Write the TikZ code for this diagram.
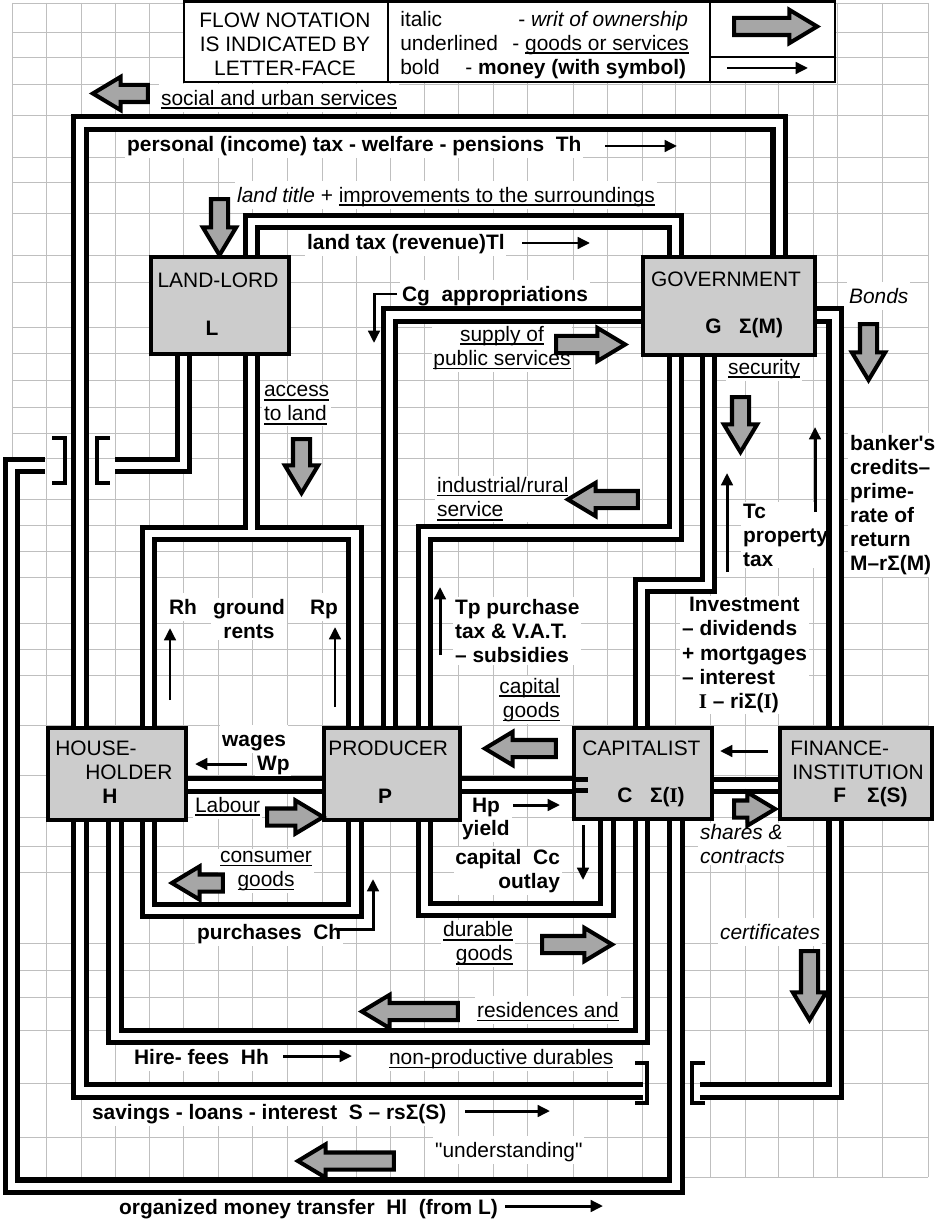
\documentclass[tikz,border=0pt]{standalone}
\usepackage{fontspec}
\setmainfont{Liberation Sans}[Ligatures=TeXOff]
\newfontfamily\serifI{Liberation Serif}
\usetikzlibrary{shapes.arrows,arrows.meta}
\newcommand\uln[1]{\setbox0=\hbox{#1}\leavevmode\rlap{\rule[-2.2pt]{\wd0}{1pt}}\box0}
\def\pxu{0.02cm}
\pgfdeclarelayer{grid}
\pgfdeclarelayer{pipes}
\pgfsetlayers{grid,pipes,main}

\tikzset{
  gridline/.style={draw=black!25, line width=0.55pt},
  pipe/.style={draw=white, line width=4pt, preaction={draw=black, line width=9.7pt}},
  agent/.style={draw, line width=2pt, fill=black!20, inner sep=0pt, anchor=north west},
  boxtxt/.style={inner sep=0pt},
  lbl/.style={fill=white, inner sep=1pt, anchor=west},
  oneline/.style={text height=11.4pt, text depth=3pt},
  bftext/.style={font=\fontsize{11.9}{13.7}\selectfont\bfseries},
  money/.style={line width=1.7pt, -{Triangle[length=7pt,width=6.5pt]}},
  fatarrow/.style={single arrow, draw=black, line width=2.3pt, fill=black!35,
    inner xsep=0pt, inner ysep=3.7pt, single arrow head extend=4.6pt,
    single arrow tip angle=62, minimum height=#1},
  bridge/.style={line width=2.5pt},
}

\begin{document}
\begin{tikzpicture}[x=0.02cm, y=-0.02cm, every node/.style={font=\fontsize{11.9}{13.7}\selectfont}]
  \useasboundingbox (0,0) rectangle (941,1219);

  \begin{pgfonlayer}{grid}
  \fill[white] (0,0) rectangle (941,1219);
  %%%%% grid %%%%%
  \foreach \gx in {12,46,81,115,149,183,218,252,287,322,356,390,424,458,493,527,573,607,642,675,710,745,778,813,837,882,928}
    \draw[gridline] (\gx,3) -- (\gx,1177);
  \foreach \gy in {3,32,57,84,115,157,182,213,255,282,327,353,380,407,433,458,499,525,551,577,623,649,675,725,775,817,846,872,943,970,997,1030,1083,1137,1177}
    \draw[gridline] (12,\gy) -- (928,\gy);

  %%%%% legend %%%%%
  \draw[line width=1.5pt, fill=white] (184,1.5) rectangle (835,82);
  \draw[line width=1.5pt] (388,1.5) -- (388,82) (710,1.5) -- (710,82) (710,57) -- (835,57);
  \node[align=center] (flow) at (285,44) {FLOW NOTATION\\IS INDICATED BY\\LETTER-FACE};
  \node[boxtxt, oneline, anchor=west] (keyI) at (400,19) {italic};
  \node[boxtxt, oneline, anchor=west] (keyIdesc) at (518,19) {- \textit{writ of ownership}};
  \node[boxtxt, oneline, anchor=west] (keyU) at (400,43) {underlined};
  \node[boxtxt, oneline, anchor=west] (keyUdesc) at (512,43) {- \uln{goods or services}};
  \node[boxtxt, oneline, anchor=west] (keyB) at (400,67) {bold};
  \node[boxtxt, oneline, anchor=west] (keyBdesc) at (465,67) {- \textbf{money (with symbol)}};

  %%%%% labels %%%%%
  \node[lbl, oneline] (social) at (159,98) {\uln{social and urban services}};
  \node[lbl, oneline, bftext] (thlbl) at (125,144) {personal (income) tax - welfare - pensions\ \ Th};
  \node[lbl, oneline] (title) at (235,195) {\textit{land title} + \uln{improvements to the surroundings}};
  \node[lbl, oneline, bftext] (tllbl) at (305,242) {land tax (revenue)Tl};
  \node[lbl, oneline, bftext] (cglbl) at (400,294) {Cg\ \ appropriations};
  \node[lbl, oneline] (bonds) at (847,296) {\textit{Bonds}};
  \node[lbl, anchor=center, align=center] (supply) at (502,348) {\uln{supply of}\\\uln{public services}};
  \node[lbl, align=left] (access) at (262,405) {\uln{access}\\\uln{to land}};
  \node[lbl, oneline] (security) at (726,367) {\uln{security}};
  \node[lbl, align=left] (indus) at (435,499) {\uln{industrial/rural}\\\uln{service}};
  \node[lbl, bftext, align=left] (tclbl) at (741,535) {Tc\\property\\tax};
  \node[lbl, bftext, align=left] (banker) at (848,505) {banker's\\credits–\\prime-\\rate of\\return\\M–rΣ(M)};
  \node[lbl, oneline, bftext] (rh) at (167,607) {Rh};
  \node[lbl, bftext, anchor=center, align=center] (rents) at (249,619) {ground\\rents};
  \node[lbl, oneline, bftext] (rp) at (308,607) {Rp};
  \node[lbl, bftext, align=left] (tplbl) at (453,631) {Tp purchase\\tax \& V.A.T.\\– subsidies};
  \node[lbl, bftext, align=left] (invest) at (680,655) {\hspace*{4pt}Investment\\– dividends\\+ mortgages\\– interest\\\hspace*{9.5pt}{\serifI I} – riΣ({\serifI I})};
  \node[lbl, anchor=east, align=right] (capgoods) at (562,700) {\uln{capital}\\\uln{goods}};
  \node[lbl, oneline, bftext] (wp) at (255,763) {Wp};
  \node[lbl, oneline, bftext] (wages) at (220,739) {wages};
  \node[lbl, oneline] (labour) at (193,805) {\uln{Labour}};
  \node[lbl, anchor=center, align=center] (consumer) at (266,871) {\uln{consumer}\\\uln{goods}};
  \node[lbl, oneline, bftext] (yield) at (460,828) {yield};
  \node[lbl, oneline, bftext] (hp) at (470,805) {Hp};
  \node[lbl, bftext, anchor=east, align=right] (cclbl) at (562,871) {capital\ \ Cc\\outlay};
  \node[lbl, align=left] (shares) at (698,844) {\textit{shares \&}\\\textit{contracts}};
  \node[lbl, oneline, bftext] (chlbl) at (195,932) {purchases\ \ Ch};
  \node[lbl, anchor=east, align=right] (durable) at (515,943.5) {\uln{durable}\\\uln{goods}};
  \node[lbl, oneline] (resid) at (475,1010) {\uln{residences and}};
  \node[lbl, oneline, bftext] (hhlbl) at (132,1057) {Hire- fees\ \ Hh};
  \node[lbl, oneline] (nonprod) at (387,1057) {\uln{non-productive durables}};
  \node[lbl, oneline, bftext] (slbl) at (90,1112) {savings - loans - interest\ \ S – rsΣ(S)};
  \node[lbl, oneline] (underst) at (433,1150) {"understanding"};
  \node[lbl, oneline, bftext] (hllbl) at (117,1207) {organized money transfer\ \ Hl\ \ (from L)};
  \node[lbl, oneline] (certif) at (718,932) {\textit{certificates}};
  \end{pgfonlayer}

  %%%%% agents %%%%%
  \node[agent, minimum width=138*\pxu, minimum height=97*\pxu] (L) at (149,255) {};
  \node[agent, minimum width=172*\pxu, minimum height=98*\pxu] (G) at (641,255) {};
  \node[agent, minimum width=138*\pxu, minimum height=92*\pxu] (H) at (46,726) {};
  \node[agent, minimum width=136*\pxu, minimum height=92*\pxu] (P) at (322,726) {};
  \node[agent, minimum width=138*\pxu, minimum height=91*\pxu] (C) at (572,726) {};
  \node[agent, minimum width=152*\pxu, minimum height=91*\pxu] (F) at (778,726) {};
  \fill (574,777) rectangle (588,782);
  \fill (574,788) rectangle (588,793);

  %%%%% pipes %%%%%
  \begin{pgfonlayer}{pipes}
  \draw[pipe] (H.north -| 80,0) -- (80,123) -- (779,123) -- (G.north -| 779,0);
  \draw[pipe] (H.south -| 80,0) -- (80,1091) -- (643,1091);
  \draw[pipe] (700,1091) -- (835,1091) -- (F.south -| 835,0);
  \draw[pipe] (L.south -| 183.5,0) -- (183.5,465.5) -- (115,465.5);
  \draw[pipe] (45,465.5) -- (11.5,465.5) -- (11.5,1186) -- (676,1186) -- (C.south -| 676,0);
  \draw[pipe] (L.north -| 251.5,0) -- (251.5,221.5) -- (675.5,221.5) -- (G.north -| 675.5,0);
  \draw[pipe] (L.south -| 251.5,0) -- (251.5,533.5)
              (H.north -| 148.5,0) -- (148.5,533.5) -- (355,533.5) -- (P.north -| 355,0);
  \draw[pipe] (G.west |- 0,315) -- (389.5,315) -- (P.north -| 389.5,0);
  \draw[pipe] (G.south -| 675.5,0) -- (675.5,533) -- (424.5,533) -- (P.north -| 424.5,0);
  \draw[pipe] (G.south -| 708.5,0) -- (708.5,585.5) -- (641.5,585.5) -- (C.north -| 641.5,0);
  \draw[pipe] (G.east |- 0,315) -- (835,315) -- (F.north -| 835,0);
  \draw[pipe] (H.east |- 0,785) -- (P.west |- 0,785);
  \draw[pipe] (P.east |- 0,785) -- (C.west |- 0,785);
  \draw[pipe] (C.east |- 0,785.5) -- (F.west |- 0,785.5);
  \draw[pipe] (H.south -| 148.5,0) -- (148.5,910.5) -- (355,910.5) -- (P.south -| 355,0);
  \draw[pipe] (P.south -| 424.5,0) -- (424.5,909.5) -- (607,909.5) -- (C.south -| 607,0);
  \draw[pipe] (H.south -| 115,0) -- (115,1036.5) -- (641.5,1036.5) -- (C.south -| 641.5,0);

  % bridges
  \draw[bridge] (52,438) -- (65,438) -- (65,483) -- (52,483);
  \draw[bridge] (110,438) -- (97,438) -- (97,483) -- (110,483);
  \draw[bridge] (635,1063) -- (647,1063) -- (647,1103) -- (635,1103);
  \draw[bridge] (705,1063) -- (692,1063) -- (692,1103) -- (705,1103);
  \end{pgfonlayer}

  \node[boxtxt] (Ltitle) at (218,280) {LAND-LORD};
  \node[boxtxt, bftext] (Lsym) at (212,328) {L};
  \node[boxtxt] (Gtitle) at (726,279) {GOVERNMENT};
  \node[boxtxt, bftext, anchor=west] (Gsym) at (705,328) {G\hspace{10pt}Σ(M)};
  \node[boxtxt, anchor=west] (Htitle1) at (55,748) {HOUSE-};
  \node[boxtxt, anchor=west] (Htitle2) at (85,772) {HOLDER};
  \node[boxtxt, bftext] (Hsym) at (110,796) {H};
  \node[boxtxt, anchor=west] (Ptitle) at (328,748) {PRODUCER};
  \node[boxtxt, bftext] (Psym) at (385,796) {P};
  \node[boxtxt, anchor=west] (Ctitle) at (582,748) {CAPITALIST};
  \node[boxtxt, bftext, anchor=west] (Csym) at (617,797) {C\hspace{10pt}Σ({\serifI I})};
  \node[boxtxt, anchor=west] (Ftitle1) at (790,748) {FINANCE-};
  \node[boxtxt, anchor=west] (Ftitle2) at (792,772) {INSTITUTION};
  \node[boxtxt, bftext, anchor=west] (Fsym) at (833,797) {F\hspace{12pt}Σ(S)};

  %%%%% goods and titles %%%%%
  \node[fatarrow=83*\pxu] (fkey) at (768.5,26.5) {};
  \node[fatarrow=55*\pxu, rotate=180] (fsocial) at (127.5,93.5) {};
  \node[fatarrow=56*\pxu, rotate=-90] (ftitle) at (219.5,220) {};
  \node[fatarrow=54*\pxu, rotate=-90] (faccess) at (301.5,459) {};
  \node[fatarrow=56*\pxu, rotate=-90] (fbonds) at (868.5,345) {};
  \node[fatarrow=55*\pxu, rotate=-90] (fsecur) at (740.5,417.5) {};
  \node[fatarrow=69*\pxu] (fsupply) at (583.5,344.5) {};
  \node[fatarrow=70*\pxu, rotate=180] (findus) at (610,499.5) {};
  \node[fatarrow=71*\pxu, rotate=180] (fcapg) at (527.5,748.5) {};
  \node[fatarrow=56*\pxu] (flabour) at (288,817) {};
  \node[fatarrow=51*\pxu, rotate=180] (fconsum) at (204.5,883) {};
  \node[fatarrow=41*\pxu] (fshares) at (747.5,809) {};
  \node[fatarrow=70*\pxu] (fdurable) at (570,944.5) {};
  \node[fatarrow=96*\pxu, rotate=180] (fresid) at (417,1011.5) {};
  \node[fatarrow=96*\pxu, rotate=180] (funder) at (353,1161) {};
  \node[fatarrow=69*\pxu, rotate=-90] (fcert) at (809.5,978.5) {};

  %%%%% money %%%%%
  \draw[money] (727,68) -- (808,68);
  \draw[money] (605,146) -- (677,146);
  \draw[money] (522,243) -- (590,243);
  \draw[money] (397,294) -- (374,294) -- (374,343);
  \draw[money] (815,512) -- (815,427);
  \draw[money] (727,572) -- (727,473);
  \draw[money] (170,700) -- (170,628);
  \draw[money] (335,707) -- (335,627);
  \draw[money] (440,655) -- (440,587);
  \draw[money] (768,751) -- (720,751);
  \draw[money] (247,764) -- (195,764);
  \draw[money] (513,805) -- (560,805);
  \draw[money] (583,825) -- (583,880);
  \draw[money] (338,929) -- (373,929) -- (373,879);
  \draw[money] (283,1056) -- (352,1056);
  \draw[money] (465,1111) -- (550,1111);
  \draw[money] (505,1206) -- (603,1206);
\end{tikzpicture}
\end{document}
